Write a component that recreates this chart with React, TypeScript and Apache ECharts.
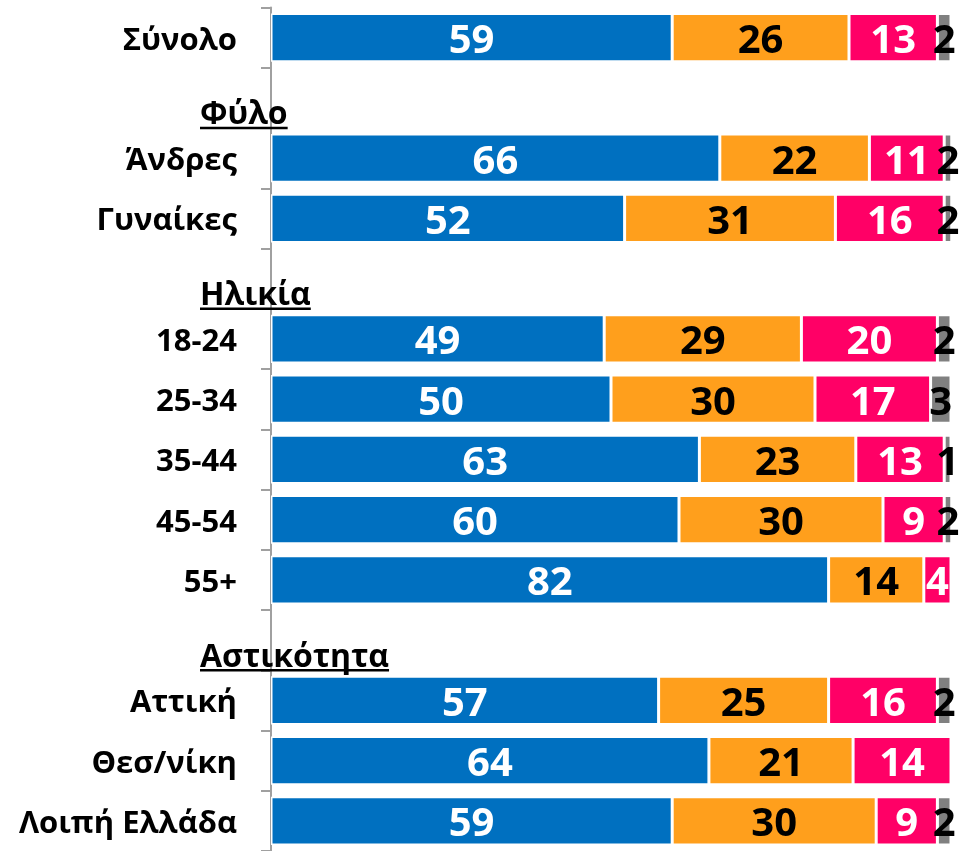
import React, { useEffect, useRef } from "react";
import * as echarts from "echarts";

const categories = [
  "Σύνολο",
  "Φύλο",
  "Άνδρες",
  "Γυναίκες",
  "Ηλικία",
  "18-24",
  "25-34",
  "35-44",
  "45-54",
  "55+",
  "Αστικότητα",
  "Αττική",
  "Θεσ/νίκη",
  "Λοιπή Ελλάδα",
];
const headers = ["Φύλο", "Ηλικία", "Αστικότητα"];

const blueValues = [59, null, 66, 52, null, 49, 50, 63, 60, 82, null, 57, 64.4, 59];
const orangeValues = [26, null, 22, 31, null, 29, 30, 23, 30, 14, null, 25, 21.2, 30];
const pinkValues = [13, null, 11, 16, null, 20, 17, 13, 9, 4, null, 16, 14.4, 9];
const grayValues = [2, null, 2, 2, null, 2, 3, 1, 2, null, null, 2, null, 2];

const seriesNames = ["Σειρά 1", "Σειρά 2", "Σειρά 3", "Σειρά 4"];
const seriesColors = ["#0070C0", "#FF9F1C", "#FF0066", "#808080"];
const labelColors = ["#FFFFFF", "#000000", "#FFFFFF", "#000000"];

const FONT = '"Open Sans", "Noto Sans", sans-serif';

export default function App() {
  const ref = useRef<HTMLDivElement>(null);

  useEffect(() => {
    if (!ref.current) return;
    const chart = echarts.init(ref.current, undefined, { renderer: "svg" });
    const allData = [blueValues, orangeValues, pinkValues, grayValues];

    const series = allData.map((data, i) => ({
      name: seriesNames[i],
      type: "bar",
      stack: "total",
      barWidth: "80%",
      data,
      itemStyle: {
        color: seriesColors[i],
        borderColor: "#FFFFFF",
        borderWidth: 1.5,
      },
      label: {
        show: true,
        position: "inside",
        color: labelColors[i],
        fontFamily: FONT,
        fontWeight: "bold",
        fontSize: 40,
        formatter: (p: any) =>
          p.value === null || p.value === undefined || p.value === 0
            ? ""
            : String(Math.round(p.value)),
      },
    }));

    chart.setOption({
      animation: false,
      grid: { left: 271, right: 20, top: 7.5, height: 848.5, containLabel: false },
      xAxis: {
        type: "value",
        min: 0,
        max: 100,
        show: false,
      },
      yAxis: {
        type: "category",
        inverse: true,
        data: categories,
        axisLine: { show: true, lineStyle: { color: "#A0A0A0", width: 2 } },
        axisTick: { show: true, length: 10, lineStyle: { color: "#A0A0A0", width: 2 } },
        axisLabel: {
          margin: 34,
          color: "#000000",
          fontFamily: FONT,
          fontWeight: "bold",
          fontSize: 31,
          formatter: (v: string) => (headers.includes(v) ? "" : v),
        },
        splitLine: { show: false },
      },
      series,
    });

    const canvas = document.createElement("canvas");
    const ctx = canvas.getContext("2d")!;
    const headerFont = `bold 32px ${FONT}`;
    ctx.font = headerFont;
    const graphics: any[] = [];
    headers.forEach((h) => {
      const py = chart.convertToPixel({ yAxisIndex: 0 }, h) as number;
      const w = ctx.measureText(h).width;
      graphics.push({
        type: "text",
        x: 200,
        y: py + 14,
        style: {
          text: h,
          fill: "#000000",
          font: headerFont,
          textAlign: "left",
          textVerticalAlign: "middle",
        },
        z: 10,
      });
      graphics.push({
        type: "line",
        shape: { x1: 200, y1: py + 30, x2: 200 + w, y2: py + 30 },
        style: { stroke: "#000000", lineWidth: 2.5 },
        z: 10,
      });
    });
    chart.setOption({ graphic: graphics });

    return () => chart.dispose();
  }, []);

  return (
    <div
      ref={ref}
      style={{ position: "fixed", left: 0, top: 0, width: 971, height: 851 }}
    />
  );
}
